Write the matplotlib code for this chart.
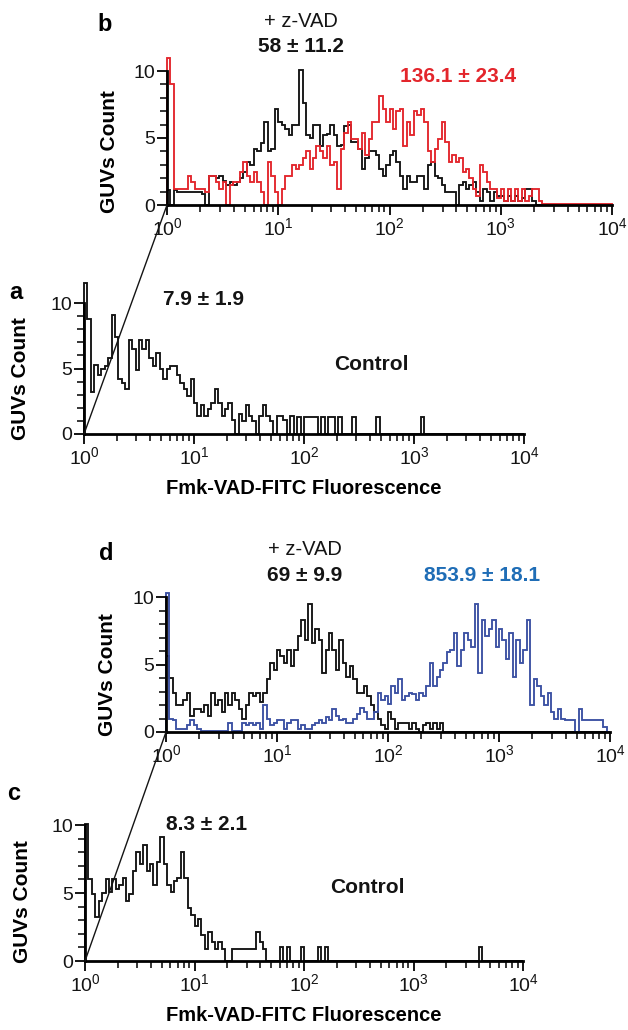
import numpy as np
import matplotlib
matplotlib.use("Agg")
import matplotlib.pyplot as plt
from matplotlib.patches import ConnectionPatch
from matplotlib.ticker import FixedLocator, NullFormatter

plt.rcParams['font.family'] = ['Liberation Sans', 'DejaVu Sans']
plt.rcParams['mathtext.fontset'] = 'custom'
plt.rcParams['mathtext.rm'] = 'Liberation Sans'
plt.rcParams['mathtext.it'] = 'Liberation Sans:italic'
plt.rcParams['mathtext.bf'] = 'Liberation Sans:bold'

# 128 log spaced channels from 10^0 to 10^4
edges = np.logspace(0, 4, 129)

# panel b : + z-VAD (black) and treated (red)
b_zvad = [1.1, 0, 1.1, 1.0, 1.0, 1.0, 1.0, 1.0, 1.0, 1.0, 0.8, 0, 2.2, 2.2, 2.0, 2.2,
          1.8, 1.5, 1.7, 1.5, 1.7, 2.0, 2.5, 3.2, 3.0, 4.2, 4.0, 4.6, 6.2, 4.0, 4.2, 7.2,
          6.2, 6.0, 5.7, 5.2, 6.0, 6.0, 10.1, 7.6, 5.2, 5.0, 6.0, 6.0, 4.4, 5.2, 5.3, 6.0,
          5.2, 4.4, 4.5, 5.9, 6.0, 4.7, 4.7, 4.2, 2.7, 3.5, 4.0, 4.0, 3.7, 2.7, 2.2, 3.0,
          3.7, 4.0, 3.2, 2.2, 1.2, 2.2, 1.7, 1.7, 2.2, 2.2, 1.2, 3.0, 3.2, 2.2, 2.0, 1.5,
          1.0, 1.0, 1.0, 0, 1.5, 1.7, 1.2, 1.5, 1.7, 1.0, 0.3, 1.2, 1.0, 0.3, 1.0, 0.7,
          0.7, 0.3, 0.7, 0.3, 0.7, 0.3, 0.5, 1.2, 1.2, 0.3, 0, 0, 0, 0, 0, 0,
          0, 0, 0, 0, 0, 0, 0, 0, 0, 0, 0, 0, 0, 0, 0, 0]
b_treated = [11.0, 9.0, 1.2, 1.2, 1.2, 1.2, 2.2, 1.7, 1.2, 1.2, 1.2, 1.0, 2.2, 2.2, 1.7, 1.2,
             1.7, 0, 1.5, 1.7, 1.7, 2.5, 3.2, 2.2, 1.7, 2.5, 1.7, 1.0, 0, 3.2, 2.2, 1.0,
             0, 1.2, 2.2, 2.2, 3.0, 2.7, 3.0, 3.5, 4.0, 2.7, 3.5, 4.4, 4.0, 3.5, 4.4, 3.0,
             3.2, 1.2, 4.2, 5.4, 6.2, 4.9, 4.9, 4.2, 5.4, 3.7, 4.9, 6.2, 6.2, 8.1, 7.2, 6.2,
             7.2, 5.7, 7.0, 7.2, 4.4, 6.2, 5.2, 7.0, 6.7, 7.2, 6.2, 4.0, 3.2, 4.2, 4.9, 6.2,
             4.7, 3.2, 3.7, 3.2, 3.5, 2.5, 2.7, 2.0, 1.2, 0.7, 3.0, 2.5, 1.7, 1.2, 1.2, 0.5,
             1.2, 0.3, 1.2, 0.3, 1.2, 0.3, 1.2, 0.3, 0.7, 1.2, 1.2, 0.3, 0.1, 0.1, 0.1, 0.1,
             0.1, 0.1, 0.1, 0.1, 0.1, 0.1, 0.1, 0.1, 0.1, 0.1, 0.1, 0.1, 0.1, 0.1, 0.1, 0.1]

# panel a : control
a_control = [11.5, 8.8, 3.2, 5.3, 4.5, 5.0, 5.2, 5.8, 9.1, 7.4, 4.2, 3.9, 3.4, 7.2, 6.5, 4.9,
             7.2, 6.5, 7.2, 5.8, 5.2, 6.2, 5.0, 4.2, 5.0, 5.2, 5.2, 4.5, 3.9, 3.4, 2.9, 4.2,
             2.4, 1.4, 2.2, 1.4, 1.9, 2.4, 3.4, 2.4, 1.4, 1.9, 2.4, 1.1, 0, 1.5, 1.0, 2.2,
             1.4, 1.0, 0, 1.4, 2.2, 1.4, 1.0, 0, 1.4, 1.4, 1.1, 0, 1.4, 0, 1.3, 0,
             1.3, 1.3, 1.3, 1.3, 0, 1.3, 0, 1.3, 1.3, 0, 1.3, 0, 0, 0, 1.3, 0,
             0, 0, 0, 0, 0, 1.3, 0, 0, 0, 0, 0, 0, 0, 0, 0, 0,
             0, 0, 1.3, 0, 0, 0, 0, 0, 0, 0, 0, 0, 0, 0, 0, 0,
             0, 0, 0, 0, 0, 0, 0, 0, 0, 0, 0, 0, 0, 0, 0, 0]

# panel d : + z-VAD (black) and treated (blue)
d_zvad = [5.6, 4.0, 2.9, 2.0, 2.0, 2.4, 2.9, 1.2, 1.7, 1.7, 1.5, 2.0, 1.2, 2.9, 2.0, 2.4,
          1.5, 2.9, 2.0, 2.9, 2.4, 1.7, 1.0, 2.0, 2.9, 2.7, 2.9, 2.2, 2.9, 3.9, 5.1, 4.6,
          6.1, 5.6, 5.1, 6.1, 4.9, 6.1, 7.1, 8.3, 6.8, 9.5, 6.6, 7.6, 6.8, 4.4, 6.1, 7.3,
          6.1, 4.6, 6.8, 5.1, 4.1, 4.9, 3.9, 2.9, 2.9, 3.4, 2.7, 2.0, 1.5, 1.0, 0.5, 0.2,
          1.5, 1.0, 0.25, 0.7, 0.7, 0.7, 0.25, 0.7, 0.25, 0, 0.5, 0.7, 0.25, 0.7, 0.25, 0.7,
          0, 0, 0, 0, 0, 0, 0, 0, 0, 0, 0, 0, 0, 0, 0, 0,
          0, 0, 0, 0, 0, 0, 0, 0, 0, 0, 0, 0, 0, 0, 0, 0,
          0, 0, 0, 0, 0, 0, 0, 0, 0, 0, 0, 0, 0, 0, 0, 0]
d_treated = [10.3, 1.0, 0.9, 0.25, 0.2, 0.2, 0.5, 0.9, 0.5, 0.25, 0.1, 0.1, 0.1, 0.1, 0.1, 0.1,
             0.1, 0.1, 0.7, 0.1, 0.1, 0.1, 0.7, 0.5, 0.7, 0.5, 0.7, 0.25, 2.0, 1.0, 0.5, 0.7,
             0.9, 0.9, 0.25, 0.7, 0.9, 0.9, 0.25, 0.5, 0.25, 0.25, 0.5, 0.7, 0.9, 0.7, 1.1, 0.9,
             1.7, 1.2, 0.9, 1.0, 0.7, 0.7, 1.0, 1.3, 1.8, 1.5, 1.0, 1.0, 1.5, 2.9, 2.4, 2.7,
             2.1, 3.4, 2.9, 3.9, 2.4, 2.7, 2.9, 2.8, 2.4, 2.9, 2.7, 3.4, 5.1, 3.4, 4.1, 4.6,
             5.1, 5.9, 6.1, 7.3, 4.9, 6.1, 7.3, 6.8, 6.3, 9.5, 4.4, 8.3, 7.1, 7.6, 8.3, 6.3,
             7.6, 6.8, 5.4, 7.3, 4.1, 6.8, 5.1, 6.1, 8.3, 2.0, 3.9, 3.4, 2.7, 2.0, 2.9, 1.5,
             1.0, 1.7, 1.0, 0.9, 0.9, 0.9, 0, 1.7, 0.9, 0.9, 0.9, 0.9, 0.9, 0.9, 0.4, 0]

# panel c : control
c_control = [10.1, 6.0, 4.9, 3.2, 4.4, 5.0, 6.0, 5.1, 6.0, 5.3, 5.6, 6.1, 4.4, 4.9, 6.6, 8.0,
             7.1, 8.5, 6.6, 7.1, 5.6, 7.3, 9.1, 7.1, 5.6, 5.1, 5.9, 6.1, 8.0, 6.1, 3.9, 3.4,
             2.6, 3.1, 1.9, 0.9, 2.1, 1.4, 0.9, 1.4, 0.9, 0, 0, 0.9, 0.9, 0.9, 0.9, 0.9,
             0.9, 0.9, 2.1, 1.4, 0.9, 0, 0, 0, 0, 1.0, 0, 1.0, 0, 0, 0, 1.0,
             0, 0, 0, 0, 1.0, 0, 1.0, 0, 0, 0, 0, 0, 0, 0, 0, 0,
             0, 0, 0, 0, 0, 0, 0, 0, 0, 0, 0, 0, 0, 0, 0, 0,
             0, 0, 0, 0, 0, 0, 0, 0, 0, 0, 0, 0, 0, 0, 0, 0,
             0, 0, 0, 1.0, 0, 0, 0, 0, 0, 0, 0, 0, 0, 0, 0, 0]

x_ticks = [1, 10, 100, 1000, 10000]
x_ticklabels = [r'$10^{0}$', r'$10^{1}$', r'$10^{2}$', r'$10^{3}$', r'$10^{4}$']
y_ticks = [0, 5, 10]

BLACK = '#141414'
RED = '#e3262c'
BLUE_LINE = '#3b51a3'
BLUE_TEXT = '#1f6db6'

W, H = 628, 1030
fig = plt.figure(figsize=(W / 100, H / 100), dpi=100)
TOP = 11.8


def panel(x0, y0, width, ppu, lab_x, lab_y):
    # x0, y0: pixel of the origin, ppu: pixels per count
    ax = fig.add_axes([x0 / W, 1 - y0 / H, width / W, TOP * ppu / H])
    ax.set_xscale('log')
    ax.set_xlim(1, 1e4)
    ax.set_ylim(0, TOP)
    ax.patch.set_alpha(0)
    ax.spines['top'].set_visible(False)
    ax.spines['right'].set_visible(False)
    ax.spines['left'].set_bounds(0, 10)
    ax.spines['left'].set_linewidth(2.0)
    ax.spines['bottom'].set_linewidth(2.0)
    ax.set_xticks(x_ticks)
    ax.set_xticklabels(x_ticklabels)
    ax.xaxis.set_minor_locator(FixedLocator([m * 10 ** e for e in range(4) for m in range(2, 10)]))
    ax.xaxis.set_minor_formatter(NullFormatter())
    ax.set_yticks(y_ticks)
    ax.yaxis.set_minor_locator(FixedLocator(range(1, 10)))
    ax.tick_params(which='major', direction='out', length=7, width=1.4,
                   labelsize=14, pad=1.5, colors=BLACK)
    ax.tick_params(which='minor', direction='out', length=5, width=1.2, colors=BLACK)
    ax.set_ylabel('GUVs Count', fontsize=15, fontweight='bold')
    ax.yaxis.set_label_coords(lab_x, lab_y)
    return ax


ax_b = panel(167, 205, 445, 13.4, -0.108, 0.34)
ax_a = panel(84, 434, 440, 13.1, -0.122, 0.36)
ax_d = panel(166, 732, 444, 13.5, -0.11, 0.36)
ax_c = panel(85, 961, 438, 13.6, -0.122, 0.37)

LW = 1.35
ax_b.stairs(b_zvad, edges, color=BLACK, lw=LW, clip_on=False)
ax_b.stairs(b_treated, edges, color=RED, lw=LW, clip_on=False)
ax_a.stairs(a_control, edges, color=BLACK, lw=LW, clip_on=False)
ax_d.stairs(d_zvad, edges, color=BLACK, lw=LW, clip_on=False)
ax_d.stairs(d_treated, edges, color=BLUE_LINE, lw=LW, clip_on=False)
ax_c.stairs(c_control, edges, color=BLACK, lw=LW, clip_on=False)

bold = dict(fontsize=15, fontweight='bold', ha='center', va='center')

# panel b
ax_b.text(-0.14, 13.5, 'b', transform=ax_b.get_yaxis_transform(), fontsize=17,
          fontweight='bold', ha='center', va='center')
ax_b.text(10 ** 1.2, 13.7, '+ z-VAD', fontsize=14.5, ha='center', va='center', color=BLACK)
ax_b.text(10 ** 1.2, 11.8, '58 ± 11.2', color=BLACK, **bold)
ax_b.text(10 ** 2.62, 9.6, '136.1 ± 23.4', color=RED, **bold)

# panel a
ax_a.text(-0.155, 10.8, 'a', transform=ax_a.get_yaxis_transform(), fontsize=17,
          fontweight='bold', ha='center', va='center')
ax_a.text(10 ** 1.09, 10.3, '7.9 ± 1.9', color=BLACK, **bold)
ax_a.text(10 ** 2.61, 5.3, 'Control', color=BLACK, **bold)
ax_a.set_xlabel('Fmk-VAD-FITC Fluorescence', fontsize=14.5, fontweight='bold', labelpad=8)

# panel d
ax_d.text(-0.135, 13.2, 'd', transform=ax_d.get_yaxis_transform(), fontsize=17,
          fontweight='bold', ha='center', va='center')
ax_d.text(10 ** 1.25, 13.5, '+ z-VAD', fontsize=14.5, ha='center', va='center', color=BLACK)
ax_d.text(10 ** 1.25, 11.6, '69 ± 9.9', color=BLACK, **bold)
ax_d.text(10 ** 2.85, 11.6, '853.9 ± 18.1', color=BLUE_TEXT, **bold)

# panel c
ax_c.text(-0.162, 12.3, 'c', transform=ax_c.get_yaxis_transform(), fontsize=17,
          fontweight='bold', ha='center', va='center')
ax_c.text(10 ** 1.11, 10.0, '8.3 ± 2.1', color=BLACK, **bold)
ax_c.text(10 ** 2.58, 5.4, 'Control', color=BLACK, **bold)
ax_c.set_xlabel('Fmk-VAD-FITC Fluorescence', fontsize=14.5, fontweight='bold', labelpad=8)

# perspective lines joining the origins of the stacked panels
for upper, lower in [(ax_b, ax_a), (ax_d, ax_c)]:
    con = ConnectionPatch(xyA=(1, 0), coordsA='data', axesA=upper,
                          xyB=(1, 0), coordsB='data', axesB=lower,
                          color=BLACK, lw=1.0)
    fig.add_artist(con)

fig.savefig('out.png', dpi=100)
